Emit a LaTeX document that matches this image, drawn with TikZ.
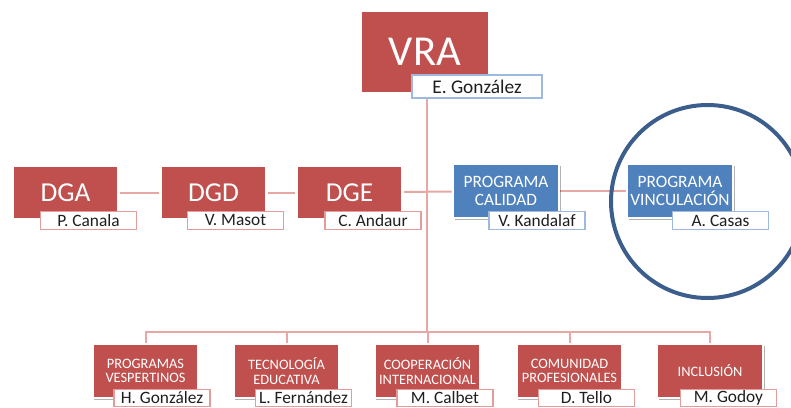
\documentclass[tikz,border=0pt]{standalone}
\usepackage{fontspec}
\setmainfont{Carlito}
\usetikzlibrary{shadows,backgrounds}
\definecolor{redbox}{HTML}{C0504D}
\definecolor{bluebox}{HTML}{4F81BD}
\definecolor{connc}{HTML}{E6A7A5}
\definecolor{labred}{HTML}{E39C9A}
\definecolor{labblue}{HTML}{9DB9DD}
\definecolor{circc}{HTML}{3B5E8C}
\definecolor{txt}{HTML}{1E1E1E}
\begin{document}
\begin{tikzpicture}[x=0.75pt,y=-0.75pt,
  conn/.style={draw=connc,line width=1.5pt},
  boxbase/.style={draw=white,line width=2.2pt,inner sep=0pt,
    minimum width=106*0.75pt,minimum height=54*0.75pt,align=center,text=white,
    drop shadow={shadow xshift=1.3pt,shadow yshift=-1.3pt,opacity=0.3,fill=black}},
  redb/.style={boxbase,fill=redbox},
  blueb/.style={boxbase,fill=bluebox},
  labbase/.style={fill=white,line width=0.8pt,inner sep=0pt,text=txt,
    minimum width=96*0.75pt,minimum height=18*0.75pt,
    font=\fontsize{13}{13}\selectfont},
  labr/.style={labbase,draw=labred},
  labb/.style={labbase,draw=labblue},
  lowlab/.style={labr,minimum height=16.5*0.75pt},
  bigt/.style={font=\fontsize{20.5}{21}\selectfont},
  midt/.style={font=\fontsize{13}{13.5}\selectfont},
  lowt/.style={font=\fontsize{10.8}{10.8}\selectfont},
  circ/.style={draw=circc,line width=3pt}]
\useasboundingbox (0,0) rectangle (791,407);
\coordinate (bus) at (427,332);
% boxes
\node[redb,minimum width=129*0.75pt,minimum height=83*0.75pt,font=\fontsize{32}{33}\selectfont] (vra) at (425,52) {VRA};
\node[redb,bigt] (dga) at (65.5,192.5) {DGA};
\node[redb,bigt] (dgd) at (213.5,192.5) {DGD};
\node[redb,bigt] (dge) at (349.5,192.5) {DGE};
\node[blueb,midt] (cal) at (506,191) {PROGRAMA\\CALIDAD};
\node[blueb,midt] (vin) at (680,191) {PROGRAMA\\VINCULACIÓN};
\node[redb,lowt] (b1) at (145.5,371) {PROGRAMAS\\VESPERTINOS};
\node[redb,lowt] (b2) at (286.5,371) {TECNOLOGÍA\\EDUCATIVA};
\node[redb,lowt] (b3) at (427.5,371) {COOPERACIÓN\\INTERNACIONAL};
\node[redb,lowt] (b4) at (569.5,371) {COMUNIDAD\\PROFESIONALES};
\node[redb,lowt] (b5) at (710,371) {INCLUSIÓN};
% labels
\node[labb,minimum width=130*0.75pt,minimum height=23*0.75pt,font=\fontsize{14.5}{15}\selectfont] (vralab) at (477,86.5) {E. González};
\node[labr] (dgalab) at (88.5,220.5) {P. Canala};
\node[labr] (dgdlab) at (235.5,220.5) {V. Masot};
\node[labr] (dgelab) at (373,220.5) {C. Andaur};
\node[labb] (callab) at (537,220.5) {V. Kandalaf};
\node[labb] (vinlab) at (720.5,220.5) {A. Casas};
\node[lowlab] (b1lab) at (162,398) {H. González};
\node[lowlab] (b2lab) at (303.5,398) {L. Fernández};
\node[lowlab] (b3lab) at (445,398) {M. Calbet};
\node[lowlab] (b4lab) at (586.5,398) {D. Tello};
\node[lowlab] (b5lab) at (728.5,398) {M. Godoy};
% connectors behind
\begin{scope}[on background layer]
\draw[conn] (vralab.south -| bus) -- (bus);
\draw[conn] (dga) -- (dgd);
\draw[conn] (dgd) -- (dge);
\draw[conn] (dge) -- (cal);
\draw[conn] (cal) -- (vin);
\draw[conn] (b1.north) |- (bus) -| (b5.north);
\draw[conn] (b2.north) -- (b2.north |- bus);
\draw[conn] (b3.north) -- (b3.north |- bus);
\draw[conn] (b4.north) -- (b4.north |- bus);
\end{scope}
% circle highlight
\draw[circ] (707.5,201.5) circle (96.5);
\end{tikzpicture}
\end{document}
